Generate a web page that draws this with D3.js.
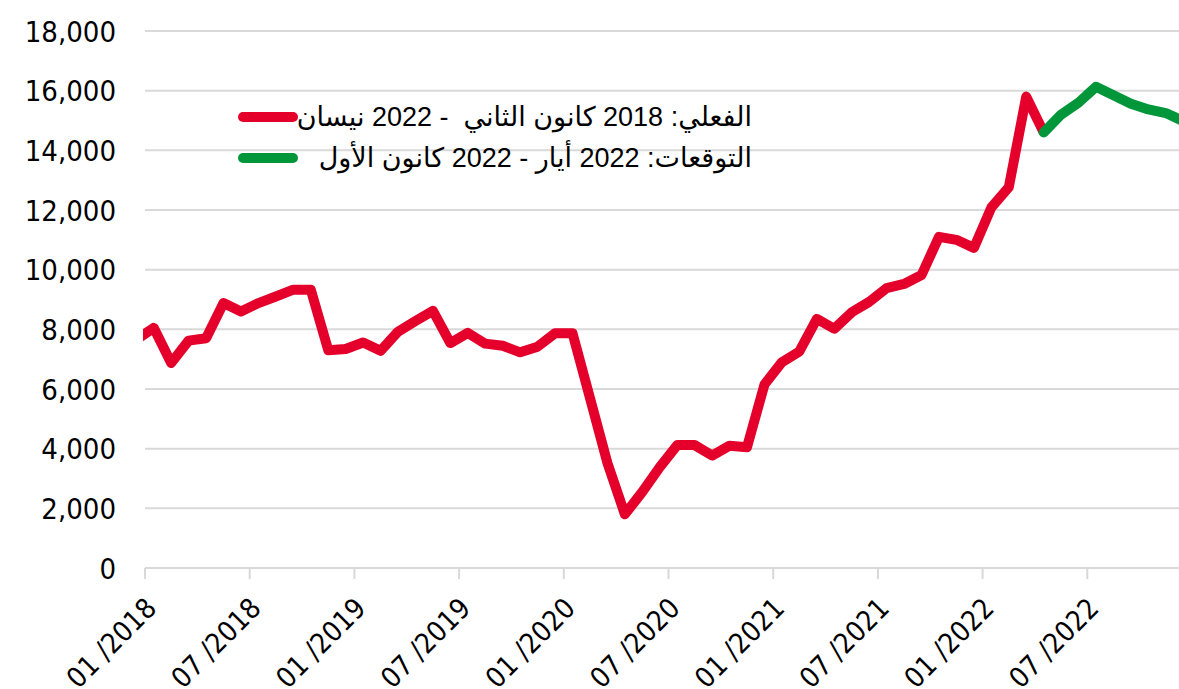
<!DOCTYPE html>
<html>
<head>
<meta charset="utf-8">
<script src="https://cdn.jsdelivr.net/npm/d3@7"></script>
<style>
  html, body { margin: 0; padding: 0; background: #fff; }
  svg { display: block; }
  .legend-text { white-space: pre; }
</style>
</head>
<body>
<svg id="chart" width="1179" height="689"></svg>
<script>
// ---- data ----
// monthly index: 0 = 01/2018 ; first actual point (-1) is 12/2017 (clipped at plot edge)
const actualStart = -1;
const actualValues = [7650,
  8050, 6870, 7620, 7700, 8880, 8600, 8880, 9100, 9330, 9330, 7300, 7340,
  7560, 7280, 7920, 8280, 8620, 7540, 7880, 7520, 7450, 7230, 7420, 7870,
  7870, 5700, 3520, 1800, 2550, 3380, 4120, 4120, 3770, 4100, 4050, 6150,
  6900, 7260, 8350, 8020, 8570, 8920, 9380, 9520, 9820, 11100, 11000, 10730,
  12080, 12760, 15800, 14600];
const forecastStart = 51;
const forecastValues = [14600, 15200, 15600, 16130, 15850, 15560, 15370, 15250, 14980];
const tickLabels = ["01 /2018", "07 /2018", "01 /2019", "07 /2019", "01 /2020",
                    "07 /2020", "01 /2021", "07 /2021", "01 /2022", "07 /2022"];
const yTicks = [0, 2000, 4000, 6000, 8000, 10000, 12000, 14000, 16000, 18000];
const legendLabels = ["الفعلي: 2018 كانون الثاني  - 2022 نيسان",
                      "التوقعات: 2022 أيار - 2022 كانون الأول"];
const seriesColors = ["#e4002b", "#009639"];

// ---- layout ----
const svg = d3.select("#chart");
const plotLeft = 145, plotBottom = 568, plotTop = 31;
const monthW = 17.45;
const x = d3.scaleLinear().domain([-0.5, 59.5]).range([plotLeft, plotLeft + 60 * monthW]);
const y = d3.scaleLinear().domain([0, 18000]).range([plotBottom, plotTop]);
const numFont = "'DejaVu Sans Condensed', Tahoma, sans-serif";

// gridlines
svg.append("g").selectAll("line").data(yTicks.filter(d => d > 0)).join("line")
  .attr("x1", plotLeft).attr("x2", 1179)
  .attr("y1", d => y(d)).attr("y2", d => y(d))
  .attr("stroke", "#d9d9d9").attr("stroke-width", 2);

// y labels
const yAxis = d3.axisLeft(y).tickValues(yTicks).tickSize(0).tickPadding(0)
  .tickFormat(d3.format(","));
const gy = svg.append("g").attr("transform", "translate(116,0)").call(yAxis);
gy.select(".domain").remove();
gy.selectAll("text").attr("font-family", numFont).attr("font-size", 29)
  .attr("fill", "#000").attr("dy", "0.35em");

// x axis line and ticks
const tickPos = tickLabels.map((d, k) => 6 * k - 0.5);
svg.append("line").attr("x1", plotLeft).attr("x2", 1179)
  .attr("y1", plotBottom).attr("y2", plotBottom)
  .attr("stroke", "#d9d9d9").attr("stroke-width", 2);
svg.append("g").selectAll("line").data(tickPos).join("line")
  .attr("x1", d => x(d)).attr("x2", d => x(d))
  .attr("y1", plotBottom).attr("y2", plotBottom + 11)
  .attr("stroke", "#d9d9d9").attr("stroke-width", 2);
svg.append("g").selectAll("text").data(tickLabels).join("text")
  .attr("transform", (d, k) => `translate(${x(tickPos[k]) + 13},610) rotate(-45)`)
  .attr("text-anchor", "end")
  .attr("font-family", numFont).attr("font-size", 28).attr("fill", "#000")
  .text(d => d);

// clip for plot
svg.append("clipPath").attr("id", "plotClip").append("rect")
  .attr("x", plotLeft - 2).attr("y", 0).attr("width", 1179).attr("height", 689);

const line = d3.line().x(d => x(d.i)).y(d => y(d.v));
const actual = actualValues.map((v, k) => ({ i: actualStart + k, v }));
const forecast = forecastValues.map((v, k) => ({ i: forecastStart + k, v }));

const gl = svg.append("g").attr("clip-path", "url(#plotClip)");
gl.append("path").datum(actual).attr("d", line)
  .attr("fill", "none").attr("stroke", seriesColors[0]).attr("stroke-width", 10)
  .attr("stroke-linejoin", "round").attr("stroke-linecap", "butt");
gl.append("path").datum(forecast).attr("d", line)
  .attr("fill", "none").attr("stroke", seriesColors[1]).attr("stroke-width", 10)
  .attr("stroke-linejoin", "round").attr("stroke-linecap", "round");

// legend
const lg = svg.append("g");
legendLabels.forEach((t, k) => {
  const yy = 117 + k * 41;
  lg.append("line").attr("x1", 243).attr("x2", 293).attr("y1", yy).attr("y2", yy)
    .attr("stroke", seriesColors[k]).attr("stroke-width", 10).attr("stroke-linecap", "round");
  lg.append("text").attr("class", "legend-text").attr("x", 752).attr("y", yy + 9)
    .attr("direction", "rtl").attr("text-anchor", "start")
    .attr("font-family", "'Liberation Sans', Arial, 'DejaVu Sans', sans-serif")
    .attr("font-size", 27).attr("fill", "#000")
    .text(t);
});
</script>
</body>
</html>
